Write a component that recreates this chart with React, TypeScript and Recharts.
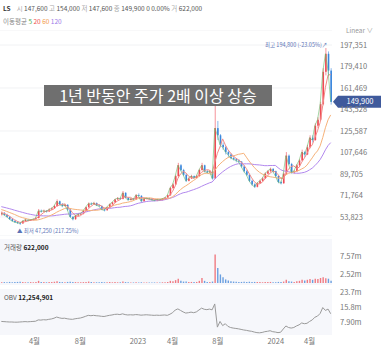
import {
  Bar,
  BarChart,
  CartesianGrid,
  Cell,
  ComposedChart,
  Line,
  LineChart,
  ReferenceLine,
  XAxis,
  YAxis,
} from "recharts";

// weekly candles, first week starts 2022-01-03 (prices in thousand won)
const START = "2022-01-03";

const closesBefore = [68, 67, 66, 65, 66, 64, 63, 65, 66, 64, 63, 62, 63, 64, 62, 61, 60, 61, 60, 59, 58, 58, 57];

const opens = [
  56.0, 57.0, 55.5, 54.0, 52.0, 50.5, 49.5, 49.0, 48.5, 50.5,
  51.5, 51.0, 51.5, 52.0, 53.0, 59.0, 58.5, 59.0, 58.5, 60.0,
  61.0, 63.0, 67.0, 64.5, 63.0, 64.0, 60.0, 54.0, 52.0, 55.0,
  56.0, 56.5, 59.0, 62.0, 65.0, 64.5, 65.5, 63.5, 63.0, 60.0,
  59.5, 62.0, 64.5, 66.0, 68.5, 69.5, 69.0, 74.0, 70.0, 68.0,
  69.0, 68.5, 72.0, 71.5, 67.0, 69.0, 69.5, 69.0, 68.0, 67.5,
  68.5, 68.0, 69.0, 70.0, 72.0, 78.0, 81.0, 88.0, 97.0, 93.0,
  89.0, 84.0, 86.0, 88.0, 86.5, 88.0, 93.0, 97.0, 92.0, 91.0,
  92.0, 86.0, 128.0, 122.0, 114.0, 112.0, 108.0, 106.0, 103.0, 102.0,
  101.0, 100.0, 96.0, 92.0, 89.0, 84.0, 81.0, 79.0, 82.0, 84.0,
  86.0, 90.0, 92.0, 94.0, 92.0, 88.0, 83.0, 82.0, 90.0, 105.0,
  98.0, 91.0, 92.0, 97.0, 101.0, 108.0, 106.0, 112.0, 120.0, 118.0,
  130.0, 135.0, 148.0, 175.0, 190.0, 176.0,
];

const highs = [
  58.5, 58.0, 56.5, 54.5, 53.0, 51.5, 50.5, 49.5, 51.0, 52.5,
  52.0, 52.0, 52.5, 54.0, 60.5, 60.0, 60.0, 59.5, 61.0, 62.0,
  64.0, 68.5, 67.5, 65.5, 65.0, 64.5, 60.5, 54.5, 55.5, 57.0,
  57.5, 59.5, 62.5, 66.0, 66.0, 66.5, 66.0, 64.5, 63.5, 60.5,
  62.5, 65.0, 66.5, 69.0, 70.5, 70.0, 75.5, 74.5, 70.5, 69.5,
  69.5, 73.0, 73.5, 72.0, 69.5, 70.0, 70.0, 69.5, 68.5, 69.0,
  69.0, 69.5, 70.5, 72.5, 79.0, 82.0, 89.0, 99.0, 98.0, 94.0,
  90.0, 87.0, 89.0, 88.5, 89.0, 94.0, 99.0, 97.5, 93.0, 93.0,
  92.5, 151.0, 134.0, 123.0, 116.0, 113.0, 109.0, 107.0, 104.5, 103.0,
  102.0, 100.5, 97.0, 93.0, 90.0, 85.0, 82.0, 83.0, 85.0, 87.0,
  91.0, 93.0, 95.0, 94.5, 92.5, 88.5, 84.0, 91.0, 108.0, 106.0,
  99.0, 93.0, 98.0, 102.0, 110.0, 109.0, 114.0, 122.0, 122.0, 132.0,
  137.0, 150.0, 178.0, 194.8, 192.0, 178.0,
];

const lows = [
  55.0, 55.0, 53.5, 51.5, 50.0, 49.0, 48.0, 47.25, 48.0, 50.0,
  50.5, 50.5, 51.0, 51.5, 52.5, 57.5, 58.0, 57.5, 58.0, 59.5,
  60.5, 62.5, 63.5, 62.0, 62.5, 59.0, 53.5, 51.0, 51.5, 54.5,
  55.5, 56.0, 58.5, 61.5, 64.0, 64.0, 63.0, 62.5, 59.5, 58.5,
  59.0, 61.5, 64.0, 65.5, 68.0, 68.0, 68.5, 69.5, 67.5, 67.5,
  68.0, 68.0, 71.0, 66.5, 66.5, 68.5, 68.5, 67.5, 67.0, 67.0,
  67.5, 67.5, 68.5, 69.5, 71.5, 77.0, 80.5, 87.0, 92.0, 88.0,
  83.0, 83.5, 85.5, 86.0, 86.0, 87.5, 92.5, 91.0, 90.0, 90.5,
  85.0, 85.5, 118.0, 112.0, 110.0, 106.0, 104.0, 102.0, 101.0, 99.5,
  99.0, 95.0, 91.0, 88.0, 83.0, 80.0, 78.0, 78.5, 81.5, 83.5,
  85.5, 89.5, 91.5, 91.0, 87.0, 82.0, 81.0, 81.5, 89.5, 97.0,
  90.0, 90.0, 91.5, 96.0, 100.5, 104.0, 105.5, 111.0, 116.0, 117.5,
  128.0, 134.0, 147.0, 172.0, 172.0, 147.6,
];

const closes = [
  57.0, 55.5, 54.0, 52.0, 50.5, 49.5, 49.0, 48.5, 50.5, 51.5,
  51.0, 51.5, 52.0, 53.0, 59.0, 58.5, 59.0, 58.5, 60.0, 61.0,
  63.0, 67.0, 64.5, 63.0, 64.0, 60.0, 54.0, 52.0, 55.0, 56.0,
  56.5, 59.0, 62.0, 65.0, 64.5, 65.5, 63.5, 63.0, 60.0, 59.5,
  62.0, 64.5, 66.0, 68.5, 69.5, 69.0, 74.0, 70.0, 68.0, 69.0,
  68.5, 72.0, 71.5, 67.0, 69.0, 69.5, 69.0, 68.0, 67.5, 68.5,
  68.0, 69.0, 70.0, 72.0, 78.0, 81.0, 88.0, 97.0, 93.0, 89.0,
  84.0, 86.0, 88.0, 86.5, 88.0, 93.0, 97.0, 92.0, 91.0, 92.0,
  86.0, 128.0, 122.0, 114.0, 112.0, 108.0, 106.0, 103.0, 102.0, 101.0,
  100.0, 96.0, 92.0, 89.0, 84.0, 81.0, 79.0, 82.0, 84.0, 86.0,
  90.0, 92.0, 94.0, 92.0, 88.0, 83.0, 82.0, 90.0, 105.0, 98.0,
  91.0, 92.0, 97.0, 101.0, 108.0, 106.0, 112.0, 120.0, 118.0, 130.0,
  135.0, 148.0, 175.0, 190.0, 176.0, 149.9,
];

// volume, millions of shares
const volumes = [
  0.2, 0.25, 0.2, 0.3, 0.2, 0.25, 0.3, 0.35, 0.25, 0.2,
  0.2, 0.25, 0.2, 0.3, 0.6, 0.3, 0.25, 0.2, 0.3, 0.3,
  0.35, 0.5, 0.3, 0.25, 0.2, 0.3, 0.35, 0.3, 0.25, 0.2,
  0.2, 0.25, 0.3, 0.4, 0.25, 0.2, 0.2, 0.2, 0.25, 0.2,
  0.2, 0.25, 0.2, 0.3, 0.2, 0.2, 0.4, 0.25, 0.2, 0.15,
  0.15, 0.2, 0.15, 0.2, 0.15, 0.15, 0.15, 0.15, 0.15, 0.15,
  0.15, 0.2, 0.2, 0.3, 0.6, 0.5, 0.8, 1.2, 0.6, 0.4,
  0.4, 0.3, 0.3, 0.25, 0.3, 0.6, 1.4, 0.6, 0.3, 0.3,
  0.4, 8.0, 4.2, 2.4, 1.6, 1.0, 0.7, 0.5, 0.4, 0.35,
  0.3, 0.3, 0.35, 0.3, 0.35, 0.3, 0.3, 0.25, 0.25, 0.2,
  0.3, 0.25, 0.3, 0.2, 0.2, 0.3, 0.25, 0.4, 0.9, 0.5,
  0.4, 0.3, 0.5, 0.6, 0.9, 0.7, 0.9, 1.1, 0.9, 1.2,
  1.1, 1.4, 1.6, 1.3, 1.2, 0.622,
];

// OBV, millions
const obv = [
  8.2, 8.1, 8.0, 7.9, 7.9, 7.8, 7.8, 7.9, 8.0, 8.1,
  8.0, 8.1, 8.2, 8.3, 9.0, 8.9, 9.1, 9.0, 9.3, 9.5,
  9.9, 10.5, 10.1, 9.8, 9.9, 9.6, 9.4, 9.3, 9.6, 9.8,
  10.0, 10.4, 10.9, 11.4, 11.2, 11.4, 11.2, 11.1, 10.9, 10.8,
  11.1, 11.4, 11.6, 11.9, 12.0, 11.8, 12.2, 11.8, 11.6, 11.7,
  11.6, 11.8, 11.7, 11.5, 11.6, 11.7, 11.6, 11.5, 11.4, 11.5,
  11.4, 11.5, 11.6, 11.4, 12.0, 12.8, 14.2, 14.8, 14.0, 13.2,
  12.6, 12.8, 13.1, 12.8, 13.2, 14.2, 15.2, 14.6, 14.4, 14.7,
  14.3, 17.4, 5.2, 8.2, 6.0, 7.0, 5.6, 5.0, 4.7, 4.5,
  4.3, 4.0, 3.7, 3.5, 3.2, 3.0, 2.6, 2.3, 2.2, 2.4,
  2.8, 3.0, 3.3, 2.8, 2.6, 2.3, 2.5, 4.2, 5.8, 5.0,
  4.7, 5.0, 5.8, 6.4, 7.4, 7.0, 7.2, 8.2, 9.0, 10.4,
  11.0, 12.4, 15.5, 14.0, 14.7, 12.25,
];

const priceTicks = [53823, 71764, 89705, 107646, 125587, 143528, 161469, 179410, 197351];
const volumeTicks = [2.52e6, 5.04e6, 7.57e6];
const obvTicks = [7.9e6, 15.8e6, 23.7e6];
const tickDates = ["2022-04-01", "2022-08-01", "2023-01-01", "2023-04-03", "2023-08-01", "2024-01-02", "2024-04-01"];
const tickLabels = ["4월", "8월", "2023", "4월", "8월", "2024", "4월"];

const UP = "#ef4a55";
const DOWN = "#3a86dc";
const FONT = '"Noto Sans CJK KR", "Noto Sans", sans-serif';

const N = closes.length;
const allCloses = [...closesBefore, ...closes];
const movingAvg = (w: number) =>
  closes.map((_, i) => {
    const end = i + closesBefore.length + 1;
    const part = allCloses.slice(Math.max(0, end - w), end);
    return (part.reduce((a, b) => a + b, 0) / part.length) * 1000;
  });
const ma5 = movingAvg(1);
const ma20 = movingAvg(4);
const ma60 = movingAvg(12);
const ma120 = movingAvg(24);

const data = closes.map((c, i) => ({
  i,
  open: opens[i] * 1000,
  high: highs[i] * 1000,
  low: lows[i] * 1000,
  close: c * 1000,
  range: [lows[i] * 1000, highs[i] * 1000],
  ma5: ma5[i],
  ma20: ma20[i],
  ma60: ma60[i],
  ma120: ma120[i],
  vol: volumes[i] * 1e6,
  obv: obv[i] * 1e6,
}));

const weekOf = (d: string) => (Date.parse(d) - Date.parse(START)) / (7 * 86400000);
const xTicks = tickDates.map(weekOf);
const xDomain = [-0.5, N - 0.5];

const Candle = (props: any) => {
  const { x, y, width, height, payload } = props;
  if (x == null || payload == null) return null;
  const top = height < 0 ? y + height : y;
  const h = Math.abs(height);
  const k = h / Math.max(payload.high - payload.low, 1);
  const b1 = top + (payload.high - Math.max(payload.open, payload.close)) * k;
  const b2 = top + (payload.high - Math.min(payload.open, payload.close)) * k;
  const color = payload.close >= payload.open ? UP : DOWN;
  const cx = x + width / 2;
  return (
    <g>
      <line x1={cx} x2={cx} y1={top} y2={top + h} stroke={color} strokeWidth={0.6} />
      <rect x={x} y={b1} width={width} height={Math.max(b2 - b1, 0.8)} fill={color} />
    </g>
  );
};

const PriceTag = ({ viewBox }: any) => {
  if (!viewBox) return null;
  const x0 = viewBox.x + viewBox.width + 1;
  const y = viewBox.y;
  return (
    <g>
      <polygon
        points={`${x0},${y} ${x0 + 5},${y - 6} ${x0 + 48},${y - 6} ${x0 + 48},${y + 6} ${x0 + 5},${y + 6}`}
        fill="#3f5a9c"
      />
      <text x={x0 + 27} y={y + 2.6} textAnchor="middle" fill="#fff" fontSize={7.5}>
        149,900
      </text>
    </g>
  );
};

const tickStyle = { fill: "#777", fontSize: 7.5 };
const fmtM = (v: number) => (v / 1e6).toPrecision(3) + "m";

const gray = { color: "#aaa" };
const val = { color: "#555" };

export default function App() {
  return (
    <div
      style={{
        position: "fixed",
        left: 0,
        top: 0,
        width: 386,
        height: 351,
        background: "#fff",
        fontFamily: FONT,
        overflow: "hidden",
      }}
    >
      <div style={{ position: "absolute", left: 3, top: 3, fontSize: 6.5, whiteSpace: "nowrap" }}>
        <b style={{ color: "#333", marginRight: 6 }}>LS</b>
        <span style={gray}>시</span> <span style={val}>147,600</span>{" "}
        <span style={gray}>고</span> <span style={val}>154,000</span>{" "}
        <span style={gray}>저</span> <span style={val}>147,600</span>{" "}
        <span style={gray}>종</span> <span style={val}>149,900</span>{" "}
        <span style={val}>0 0.00%</span> <span style={gray}>거</span> <span style={val}>622,000</span>
      </div>
      <div style={{ position: "absolute", left: 3, top: 16, fontSize: 6.5, whiteSpace: "nowrap" }}>
        <span style={{ color: "#888" }}>이동평균</span>{" "}
        <span style={{ color: "#4caf50" }}>5</span> <span style={{ color: "#ef5350" }}>20</span>{" "}
        <span style={{ color: "#f39c4a" }}>60</span> <span style={{ color: "#9c7be8" }}>120</span>
      </div>
      <div style={{ position: "absolute", left: 346, top: 25, fontSize: 6.5, color: "#999" }}>Linear ∨</div>

      <div style={{ position: "absolute", left: 0, top: 239, width: 332, height: 46, background: "#f6f7fb" }} />
      <div style={{ position: "absolute", left: 0, top: 289, width: 332, height: 46, background: "#f6f7fb" }} />

      <div style={{ position: "absolute", left: 0, top: 30 }}>
        <ComposedChart width={386} height={206} data={data} margin={{ top: 0, right: 0, bottom: 0, left: 0 }}>
          <CartesianGrid vertical={false} stroke="#f1f2f4" />
          <XAxis dataKey="i" type="number" domain={xDomain} hide allowDataOverflow />
          <YAxis
            orientation="right"
            width={54}
            domain={[37968, 209868]}
            ticks={priceTicks}
            tick={tickStyle}
            tickFormatter={(v: number) => v.toLocaleString("en-US")}
            tickLine={false}
            axisLine={false}
            tickSize={0}
            tickMargin={8}
            allowDataOverflow
          />
          <Line dataKey="ma120" stroke="#b288ee" strokeWidth={1} dot={false} isAnimationActive={false} />
          <Line dataKey="ma60" stroke="#f6b27a" strokeWidth={1} dot={false} isAnimationActive={false} />
          <Line dataKey="ma20" stroke="#f28a86" strokeWidth={1} dot={false} isAnimationActive={false} />
          <Line dataKey="ma5" stroke="#66bb6a" strokeWidth={0.6} dot={false} isAnimationActive={false} />
          <Bar dataKey="range" barSize={1.6} shape={Candle} isAnimationActive={false} />
          <ReferenceLine y={149900} stroke="none" label={(p: any) => <PriceTag viewBox={p.viewBox} />} />
        </ComposedChart>
      </div>

      <div
        style={{
          position: "absolute",
          left: 44,
          top: 85,
          width: 228,
          height: 21,
          background: "#6f6f6f",
          color: "#fff",
          fontSize: 16,
          lineHeight: "21px",
          textAlign: "center",
          whiteSpace: "nowrap",
        }}
      >
        1년 반동안 주가 2배 이상 상승
      </div>
      <div style={{ position: "absolute", left: 265, top: 41, fontSize: 5.5, color: "#5b73b6", whiteSpace: "nowrap" }}>
        최고 194,800 (-23.05%)↗
      </div>
      <div style={{ position: "absolute", left: 17, top: 227, fontSize: 5.5, color: "#5b73b6", whiteSpace: "nowrap" }}>
        ▲ 최저 47,250 (217.25%)
      </div>

      <div style={{ position: "absolute", left: 0, top: 240 }}>
        <BarChart width={386} height={43} data={data} margin={{ top: 0, right: 0, bottom: 0, left: 0 }}>
          <XAxis dataKey="i" type="number" domain={xDomain} hide allowDataOverflow />
          <YAxis
            orientation="right"
            width={54}
            domain={[0, 12.04e6]}
            ticks={volumeTicks}
            tick={tickStyle}
            tickFormatter={fmtM}
            tickLine={false}
            axisLine={false}
            tickSize={0}
            tickMargin={8}
          />
          <Bar dataKey="vol" barSize={1.4} isAnimationActive={false}>
            {data.map((d) => (
              <Cell key={d.i} fill={d.close >= d.open ? "#f07a82" : "#6a9fe0"} />
            ))}
          </Bar>
        </BarChart>
      </div>
      <div style={{ position: "absolute", left: 4, top: 242, fontSize: 6.5, color: "#555", whiteSpace: "nowrap" }}>
        거래량 <b style={{ color: "#222" }}>622,000</b>
      </div>

      <div style={{ position: "absolute", left: 0, top: 280 }}>
        <LineChart width={386} height={71} data={data} margin={{ top: 8, right: 0, bottom: 0, left: 0 }}>
          <XAxis
            dataKey="i"
            type="number"
            domain={xDomain}
            ticks={xTicks}
            tickFormatter={(v: number) => tickLabels[xTicks.indexOf(v)] ?? ""}
            tick={tickStyle}
            tickLine={false}
            axisLine={false}
            tickSize={0}
            tickMargin={2}
            height={14}
            interval={0}
            allowDataOverflow
          />
          <YAxis
            orientation="right"
            width={54}
            domain={[0, 25.8e6]}
            ticks={obvTicks}
            tick={tickStyle}
            tickFormatter={fmtM}
            tickLine={false}
            axisLine={false}
            tickSize={0}
            tickMargin={8}
          />
          <Line dataKey="obv" stroke="#9a9a9a" strokeWidth={1} dot={false} isAnimationActive={false} />
        </LineChart>
      </div>
      <div style={{ position: "absolute", left: 4, top: 292, fontSize: 6.5, color: "#555", whiteSpace: "nowrap" }}>
        OBV <b style={{ color: "#222" }}>12,254,901</b>
      </div>
    </div>
  );
}
